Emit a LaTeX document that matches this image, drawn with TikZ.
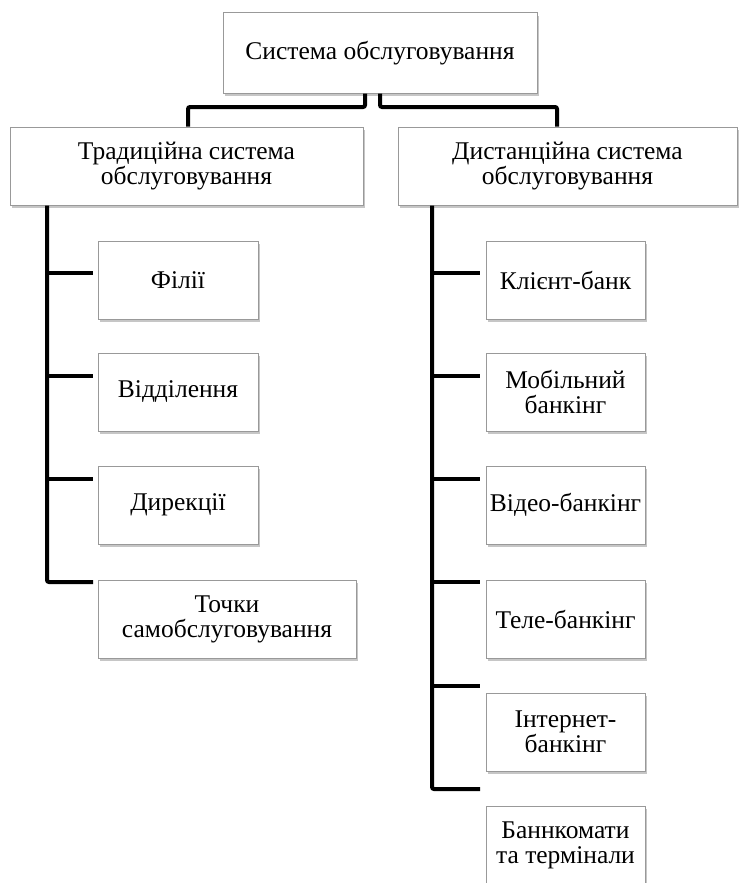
\documentclass[tikz,border=0pt]{standalone}
\usepackage{fontspec}
\setmainfont{Liberation Serif}
\usetikzlibrary{shadows}
\tikzset{
  box/.style={draw=black!40, fill=white, line width=1pt, align=center, inner sep=1pt,
    drop shadow={shadow xshift=1.5pt, shadow yshift=-3pt, fill=black!50, opacity=0.45}},
  link/.style={line width=4pt, rounded corners=2pt}
}
\begin{document}
\begin{tikzpicture}[x=1pt, y=-1pt, font=\fontsize{25.5}{25}\selectfont]
        \useasboundingbox (0,0) rectangle (739,883);
        % top and second level
        \node[box, minimum width=314, minimum height=80] (sys) at (380,53) {Система обслуговування};
        \node[box, minimum width=353, minimum height=78] (trad) at (186.5,166) {Традиційна система\\обслуговування};
        \node[box, minimum width=339, minimum height=78] (dist) at (567.5,166) {Дистанційна система\\обслуговування};
        \coordinate (jl) at (188,107);
        \coordinate (jr) at (557,107);
        \draw[link] ([xshift=-15pt]sys.south) |- (jl) -- (jl |- trad.north);
        \draw[link] (sys.south) |- (jr) -- (jr |- dist.north);
        % traditional branch
        \foreach \y/\nm/\txt in {280/fil/Філії, 392/vid/Відділення, 505/dir/Дирекції} {
          \node[box, minimum width=160, minimum height=78] (\nm) at (178,\y) {\txt};
        }
        \node[box, minimum width=258, minimum height=78] (tsb) at (227,619) {Точки\\самобслуговування};
        \coordinate (lsp) at (47,0);
        \foreach \y [count=\i] in {273,376,479,582}
          \coordinate (lb\i) at (93,\y);
        \draw[link] (trad.south -| lsp) |- (lb4);
        \foreach \i in {1,2,3}
          \draw[link] (lb\i -| lsp) -- (lb\i);
        % remote branch
        \foreach \y/\nm/\txt in {280/kb/Клієнт-банк, 392/mb/{Мобільний\\банкінг}, 505/vb/Відео-банкінг,
                                 619/tb/Теле-банкінг, 732/ib/{Інтернет-\\банкінг}, 845/bt/{Баннкомати\\та термінали}} {
          \node[box, minimum width=159, minimum height=78] (\nm) at (565.5,\y) {\txt};
        }
        \coordinate (rsp) at (432,0);
        \foreach \y [count=\i] in {273,376,479,582,686,789}
          \coordinate (rb\i) at (480,\y);
        \draw[link] (dist.south -| rsp) |- (rb6);
        \foreach \i in {1,...,5}
          \draw[link] (rb\i -| rsp) -- (rb\i);
      \end{tikzpicture}
\end{document}
